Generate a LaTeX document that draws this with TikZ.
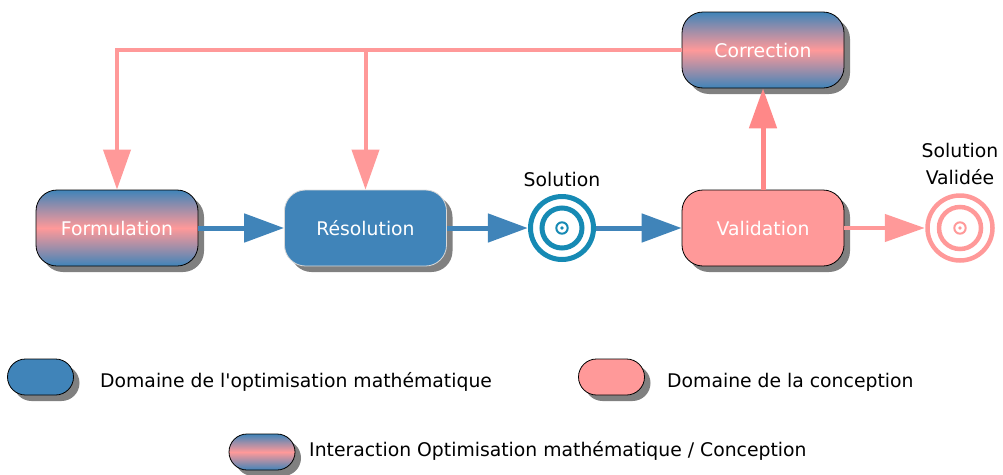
\documentclass[tikz,border=0pt]{standalone}
\usepackage{fontspec}
\setmainfont{DejaVu Sans}[Ligatures=TeXOff]
\usetikzlibrary{arrows.meta,shadows}
\definecolor{optblue}{RGB}{64,132,185}
\definecolor{conpink}{RGB}{255,153,153}
\definecolor{conpinkdark}{RGB}{255,136,136}
\definecolor{tgtblue}{RGB}{22,138,180}
\definecolor{shadowgray}{RGB}{128,128,128}
\pgfdeclareverticalshading{mixshade}{100bp}{color(0bp)=(optblue); color(25bp)=(optblue); color(36bp)=(optblue!55!conpink); color(50bp)=(conpink); color(64bp)=(optblue!55!conpink); color(75bp)=(optblue); color(100bp)=(optblue)}
\begin{document}
\begin{tikzpicture}[x=1pt,y=-1pt,
  txt/.style={font=\fontsize{18.8}{27}\selectfont},
  shad/.style={drop shadow={shadow xshift=6pt,shadow yshift=-6pt,fill=shadowgray,opacity=1}},
  box/.style={txt,shad,rectangle,rounded corners=21pt,minimum width=162pt,minimum height=76pt,inner sep=0pt,text=white},
  mixed/.style={box,draw=black,line width=0.8pt,shading=mixshade},
  optbox/.style={box,draw=white!85!black,line width=0.8pt,fill=optblue},
  conbox/.style={box,draw=black,line width=0.8pt,fill=conpink},
  legend/.style={shad,rectangle,rounded corners=18pt,minimum width=66pt,minimum height=36pt,inner sep=0pt,draw=black,line width=0.8pt},
  target/.style={circle,minimum size=#1,inner sep=0pt},
  flowb/.style={draw=optblue,line width=5pt,-{Triangle[length=40pt,width=28pt]}},
  flowp/.style={draw=conpink,line width=4.5pt,-{Triangle[length=40pt,width=27pt]}},
  lbl/.style={txt,text=black,inner sep=0pt}
]
\useasboundingbox (0,0) rectangle (1003,474);

% nodes
\node[mixed]  (form) at (117,228)   {Formulation};
\node[optbox] (res)  at (365.5,228) {Résolution};
\node[conbox] (val)  at (763,228)   {Validation};
\node[mixed]  (corr) at (763,50)    {Correction};

% targets
\node[target=68pt] (sol) at (562,228) {};
\draw[tgtblue,line width=5pt] (sol.center) circle[radius=31.5];
\draw[tgtblue,line width=5pt] (sol.center) circle[radius=20];
\draw[tgtblue,line width=2pt] (sol.center) circle[radius=5.7];
\fill[tgtblue] (sol.center) circle[radius=1.8];
\node[lbl,anchor=base] (soltxt) at (562,186) {Solution};

\node[target=70pt] (solv) at (960,228) {};
\draw[conpink,line width=4.5pt] (solv.center) circle[radius=32.5];
\draw[conpink,line width=4.5pt] (solv.center) circle[radius=21];
\draw[conpink,line width=2pt] (solv.center) circle[radius=5.7];
\fill[conpink] (solv.center) circle[radius=1.8];
\node[lbl,align=center,anchor=north] (solvtxt) at (960,143.5) {Solution\\Validée};

% connectors
\draw[flowb] (form.east) -- (res.west);
\draw[flowb] (res.east) -- (sol.west);
\draw[flowb] (sol.east) -- (val.west);
\draw[flowp] (val.east) -- (solv.west);
\draw[flowp,draw=conpinkdark,line width=5pt] (val.north) -- (corr.south);
\draw[flowp,line width=4pt] (corr.west) -| (form.north);
\draw[flowp,line width=4pt] (res.north |- corr.west) -- (res.north);

% legend
\node[legend,fill=optblue] (leg1) at (40.5,377) {};
\node[lbl,anchor=base west] (leg1txt) at (100,387) {Domaine de l'optimisation mathématique};
\node[legend,fill=conpink] (leg2) at (611.5,377) {};
\node[lbl,anchor=base west] (leg2txt) at (667,387) {Domaine de la conception};
\node[legend,shading=mixshade] (leg3) at (262,452) {};
\node[lbl,anchor=base west] (leg3txt) at (309,456) {Interaction Optimisation mathématique / Conception};
\end{tikzpicture}
\end{document}
